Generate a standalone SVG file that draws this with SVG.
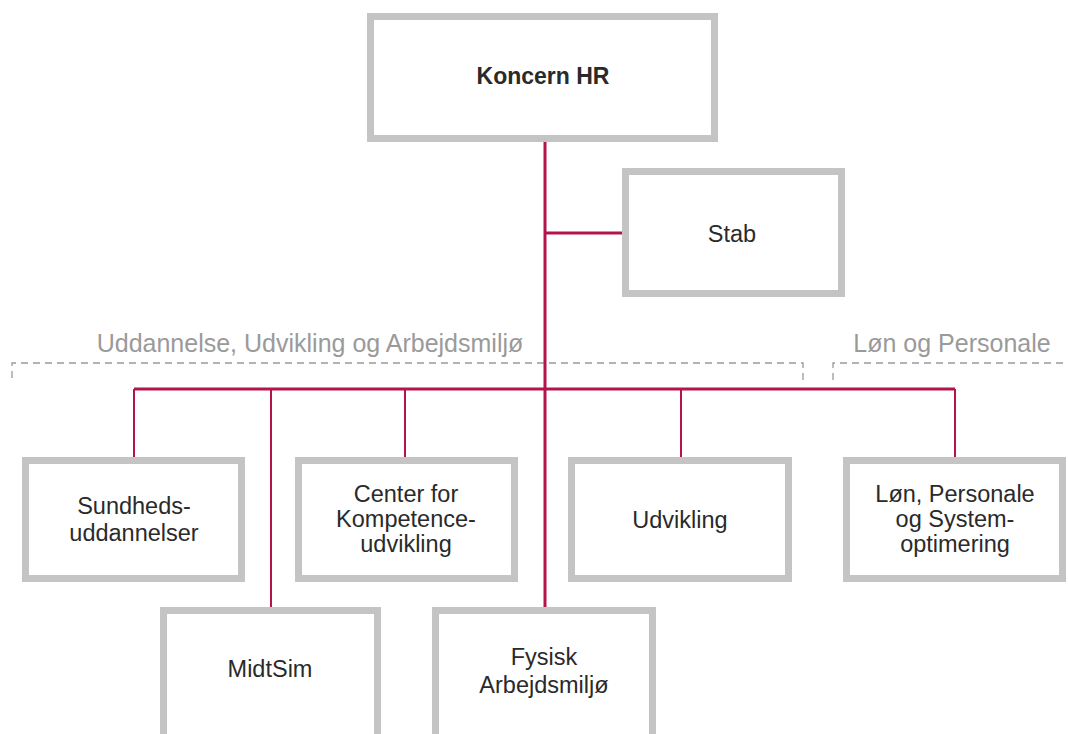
<svg xmlns="http://www.w3.org/2000/svg" width="1068" height="734" viewBox="0 0 1068 734">
<style>
.box{fill:#fff;stroke:#c4c4c4;stroke-width:7}
.lbl{font-family:"Liberation Sans",Arial,sans-serif;font-size:23.5px;fill:#2a2a2a;text-anchor:middle}
.bold{font-weight:bold;font-size:23px}
.hdr{font-family:"Liberation Sans",Arial,sans-serif;font-size:25px;fill:#9a9a9a;text-anchor:middle}
.con{stroke:#b3144c;fill:none}
.dash{stroke:#999;stroke-width:1.3;fill:none;stroke-dasharray:7 5}
</style>
<rect width="1068" height="734" fill="#fff"/>
<g id="sections">
<text class="hdr" x="310" y="352">Uddannelse, Udvikling og Arbejdsmiljø</text>
<text class="hdr" x="952" y="352">Løn og Personale</text>
<path class="dash" d="M12,378 V363 H803 V380"/>
<path class="dash" d="M833,380 V363 H1068"/>
</g>
<g id="connectors">
<path class="con" stroke-width="3" d="M545,142 V607 M545,233 H622 M134,389 H955"/>
<path class="con" stroke-width="2" d="M134,389 V457 M271,389 V607 M405,389 V457 M681,389 V457 M955,389 V457"/>
</g>
<g id="koncern-hr">
<rect class="box" x="370.5" y="16.5" width="344" height="122"/>
<text class="lbl bold" x="543" y="84">Koncern HR</text>
</g>
<g id="stab">
<rect class="box" x="625.5" y="171.5" width="216" height="122"/>
<text class="lbl" x="732" y="242">Stab</text>
</g>
<g id="sundhedsuddannelser">
<rect class="box" x="25.5" y="460.5" width="216" height="118"/>
<text class="lbl" x="134" y="514">Sundheds-</text>
<text class="lbl" x="134" y="541">uddannelser</text>
</g>
<g id="center-kompetenceudvikling">
<rect class="box" x="298.5" y="460.5" width="216" height="118"/>
<text class="lbl" x="406" y="502">Center for</text>
<text class="lbl" x="406" y="527">Kompetence-</text>
<text class="lbl" x="406" y="552">udvikling</text>
</g>
<g id="udvikling">
<rect class="box" x="571.5" y="460.5" width="217" height="118"/>
<text class="lbl" x="680" y="528">Udvikling</text>
</g>
<g id="loen-personale">
<rect class="box" x="846.5" y="460.5" width="216" height="118"/>
<text class="lbl" x="955" y="502">Løn, Personale</text>
<text class="lbl" x="955" y="527">og System-</text>
<text class="lbl" x="955" y="552">optimering</text>
</g>
<g id="midtsim">
<rect class="box" x="163.5" y="610.5" width="214" height="132"/>
<text class="lbl" x="270" y="677">MidtSim</text>
</g>
<g id="fysisk-arbejdsmiljoe">
<rect class="box" x="435.5" y="610.5" width="217" height="132"/>
<text class="lbl" x="544" y="665">Fysisk</text>
<text class="lbl" x="544" y="693">Arbejdsmiljø</text>
</g>
</svg>
